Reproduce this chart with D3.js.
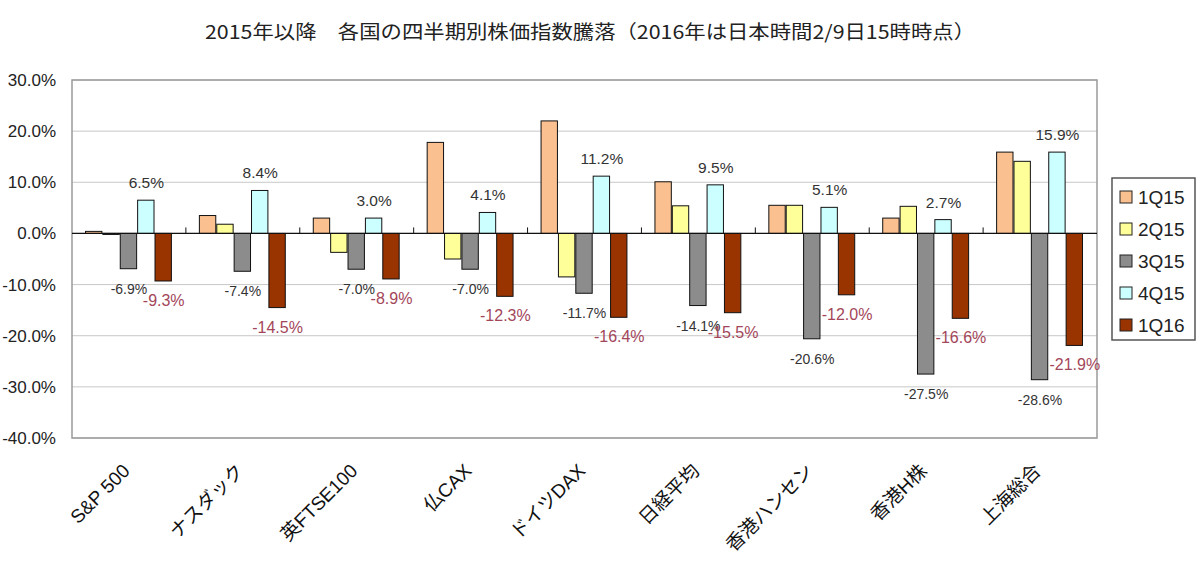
<!DOCTYPE html>
<html>
<head>
<meta charset="utf-8">
<script src="https://cdn.jsdelivr.net/npm/d3@7"></script>
<style>
  body { margin: 0; background: #fff; }
  text { font-family: "Liberation Sans", Arial, sans-serif; }
  .jp { font-family: "Noto Sans CJK JP", sans-serif; }
  .cat { font-family: "Liberation Sans", "Noto Sans CJK JP", sans-serif; }
</style>
</head>
<body>
<div id="app"></div>
<script>
const categories = ['S&P 500', 'ナスダック', '英FTSE100', '仏CAX', 'ドイツDAX', '日経平均', '香港ハンセン', '香港H株', '上海総合'];
const seriesNames = ['1Q15', '2Q15', '3Q15', '4Q15', '1Q16'];
const q1_15 = [0.4, 3.5, 3.0, 17.8, 22.0, 10.1, 5.5, 3.0, 15.9];
const q2_15 = [-0.2, 1.8, -3.7, -5.0, -8.5, 5.4, 5.5, 5.3, 14.1];
const q3_15 = [-6.9, -7.4, -7.0, -7.0, -11.7, -14.1, -20.6, -27.5, -28.6];
const q4_15 = [6.5, 8.4, 3.0, 4.1, 11.2, 9.5, 5.1, 2.7, 15.9];
const q1_16 = [-9.3, -14.5, -8.9, -12.3, -16.4, -15.5, -12.0, -16.6, -21.9];
const yTicks = [30, 20, 10, 0, -10, -20, -30, -40];
const colors = ['#fac090', '#ffff99', '#8c8c8c', '#ccffff', '#993300'];

const series = [q1_15, q2_15, q3_15, q4_15, q1_16];

const W = 1200, H = 566;
const margin = { top: 80, right: 103, bottom: 128, left: 72 };
const width = W - margin.left - margin.right,
  height = H - margin.top - margin.bottom;

const svg = d3.select('#app').append('svg')
  .attr('width', W)
  .attr('height', H);

// title
svg.append('text')
  .attr('class', 'jp')
  .attr('x', 590)
  .attr('y', 39)
  .attr('text-anchor', 'middle')
  .attr('textLength', 770)
  .attr('lengthAdjust', 'spacingAndGlyphs')
  .style('font-size', '19px')
  .style('fill', '#222')
  .text('2015年以降　各国の四半期別株価指数騰落（2016年は日本時間2/9日15時時点）');

const g = svg.append('g')
  .attr('transform', 'translate(' + margin.left + ',' + margin.top + ')');

const y = d3.scaleLinear()
  .domain([-40, 30])
  .range([height, 0]);

const x0 = d3.scaleBand()
  .domain(categories)
  .range([0, width]);

const x1 = d3.scaleBand()
  .domain(seriesNames)
  .range([13.5, x0.bandwidth() - 13.5]);

// gridlines
g.selectAll('.grid')
  .data(yTicks)
  .enter()
  .append('line')
  .attr('x1', 0)
  .attr('x2', width)
  .attr('y1', d => y(d))
  .attr('y2', d => y(d))
  .attr('stroke', '#c8c8c8')
  .attr('stroke-width', 1);

// plot border
g.append('rect')
  .attr('x', 0)
  .attr('y', 0)
  .attr('width', width)
  .attr('height', height)
  .attr('fill', 'none')
  .attr('stroke', '#9a9a9a')
  .attr('stroke-width', 1.5);

// y axis
const yAxis = d3.axisLeft(y)
  .tickValues(yTicks)
  .tickSize(0)
  .tickPadding(16)
  .tickFormat(d => d.toFixed(1) + '%');

const gy = g.append('g').call(yAxis);
gy.select('.domain').remove();
gy.selectAll('text')
  .style('font-size', '17px')
  .style('fill', '#222');

// bars
const groups = g.selectAll('.grp')
  .data(categories)
  .enter()
  .append('g')
  .attr('transform', d => 'translate(' + x0(d) + ',0)');

seriesNames.forEach((s, si) => {
  groups.append('rect')
    .attr('x', x1(s))
    .attr('width', x1.bandwidth() - 1)
    .attr('y', (d, i) => y(Math.max(0, series[si][i])))
    .attr('height', (d, i) => Math.abs(y(series[si][i]) - y(0)))
    .attr('fill', colors[si])
    .attr('stroke', '#111')
    .attr('stroke-width', 1);
});

// zero axis line and ticks
g.append('line')
  .attr('x1', 0)
  .attr('x2', width)
  .attr('y1', y(0))
  .attr('y2', y(0))
  .attr('stroke', '#111')
  .attr('stroke-width', 1.2);

g.selectAll('.tk')
  .data(categories.slice(1))
  .enter()
  .append('line')
  .attr('x1', d => x0(d))
  .attr('x2', d => x0(d))
  .attr('y1', y(0))
  .attr('y2', y(0) - 6)
  .attr('stroke', '#111');

// data labels: 3Q15, 4Q15, 1Q16
const labelSeries = [
  { si: 2, size: 14, color: '#333' },
  { si: 3, size: 15.5, color: '#333' },
  { si: 4, size: 16, color: '#a3465a' }
];

labelSeries.forEach(ls => {
  const s = seriesNames[ls.si];
  groups.append('text')
    .attr('x', x1(s) + x1.bandwidth() / 2)
    .attr('y', (d, i) => {
      const v = series[ls.si][i];
      return v >= 0 ? y(v) - 12 : y(v) + 25;
    })
    .attr('text-anchor', 'middle')
    .style('font-size', ls.size + 'px')
    .style('fill', ls.color)
    .text((d, i) => series[ls.si][i].toFixed(1) + '%');
});

// category labels
svg.selectAll('.cat')
  .data(categories)
  .enter()
  .append('text')
  .attr('class', 'cat')
  .attr('text-anchor', 'end')
  .attr('transform', d => 'translate(' + (margin.left + x0(d) + x0.bandwidth() / 2 + 2) + ',' + 472 + ') rotate(-45)')
  .style('font-size', '19px')
  .style('fill', '#111')
  .text(d => d);

// legend
const lg = svg.append('g').attr('transform', 'translate(1112,178)');
lg.append('rect')
  .attr('width', 83)
  .attr('height', 162)
  .attr('fill', '#fff')
  .attr('stroke', '#555')
  .attr('stroke-width', 1.5);

const items = lg.selectAll('.li')
  .data(seriesNames)
  .enter()
  .append('g')
  .attr('transform', (d, i) => 'translate(8,' + (19 + i * 32) + ')');

items.append('rect')
  .attr('x', 0)
  .attr('y', -6)
  .attr('width', 12)
  .attr('height', 12)
  .attr('fill', (d, i) => colors[i])
  .attr('stroke', '#222');

items.append('text')
  .attr('x', 18)
  .attr('y', 7)
  .style('font-size', '19px')
  .style('fill', '#222')
  .text(d => d);
</script>
</body>
</html>
